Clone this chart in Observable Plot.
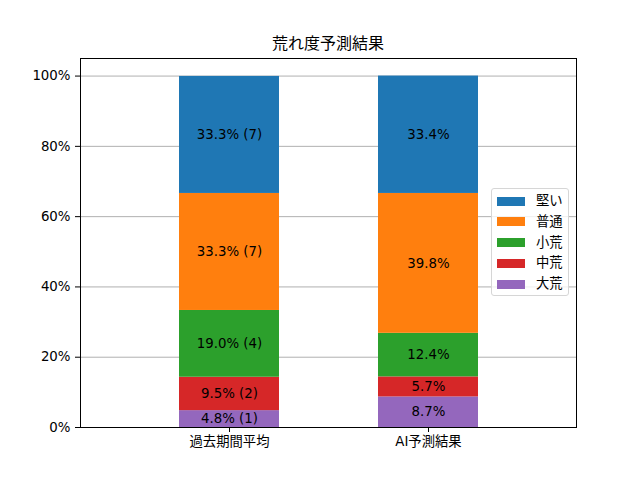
<!DOCTYPE html>
<html>
<head>
<meta charset="utf-8">
<script src="https://cdn.jsdelivr.net/npm/d3@7"></script>
<script src="https://cdn.jsdelivr.net/npm/@observablehq/plot@0.6"></script>
<style>
  html, body { margin: 0; padding: 0; background: #fff; }
  body { width: 640px; height: 480px; position: relative; overflow: hidden;
         font-family: "DejaVu Sans", "Noto Sans CJK JP", sans-serif; }
  #title { position: absolute; left: 80px; width: 496px; top: 34px; text-align: center;
           font-size: 16px; line-height: 20px; color: #000; }
  #legend { position: absolute; left: 491px; top: 188px; width: 78px; height: 108px;
            border: 1px solid #d6d6d6; border-radius: 3px; background: rgba(255,255,255,0.8);
            box-sizing: border-box; font-size: 13.33px; }
  .row { position: absolute; left: 0; height: 20px; display: flex; align-items: center; }
  .sw { position: absolute; left: 5px; width: 28px; height: 9px; }
  .lb { position: absolute; left: 44px; white-space: nowrap; line-height: 20px; }
  #chart { position: absolute; left: 0; top: 0; }
</style>
</head>
<body>
<div id="chart"></div>
<div id="title"></div>
<div id="legend"></div>
<script>
const chartTitle = "荒れ度予測結果";
const categories = ["過去期間平均", "AI予測結果"];
const levels = ["大荒", "中荒", "小荒", "普通", "堅い"];      // bottom to top
const colors = ["#9467bd", "#d62728", "#2ca02c", "#ff7f0e", "#1f77b4"];
const pastValues = [4.8, 9.5, 19.0, 33.3, 33.3];
const pastCounts = [1, 2, 4, 7, 7];
const aiValues = [8.7, 5.7, 12.4, 39.8, 33.4];
const yTicks = [0, 20, 40, 60, 80, 100];

const rows = [];
levels.forEach((lv, i) => rows.push({cat: categories[0], level: lv, value: pastValues[i],
  label: `${pastValues[i].toFixed(1)}% (${pastCounts[i]})`}));
levels.forEach((lv, i) => rows.push({cat: categories[1], level: lv, value: aiValues[i],
  label: `${aiValues[i].toFixed(1)}%`}));

const font = "'DejaVu Sans', 'Noto Sans CJK JP', sans-serif";

const chart = Plot.plot({
  width: 640,
  height: 480,
  marginLeft: 80,
  marginRight: 64,
  marginTop: 58,
  marginBottom: 53,
  style: {fontSize: "13.33px", fontFamily: font, color: "#000", background: "transparent"},
  x: {domain: categories, paddingInner: 0.5, paddingOuter: 0.495, label: null},
  y: {domain: [0, 105], label: null},
  color: {domain: levels, range: colors},
  marks: [
    Plot.gridY(yTicks, {stroke: "#b0b0b0", strokeOpacity: 1, strokeWidth: 1}),
    Plot.barY(rows, Plot.stackY({x: "cat", y: "value", z: "level", fill: "level", order: levels})),
    Plot.text(rows, Plot.stackY({x: "cat", y: "value", z: "level", text: "label", order: levels,
      fill: "#000", fontSize: 13.33})),
    Plot.axisY(yTicks, {tickFormat: d => d + "%", tickSize: 5, tickPadding: 5, label: null, fontSize: 13.33}),
    Plot.axisX({tickSize: 5, tickPadding: 4, label: null, fontSize: 13.33}),
    Plot.frame({stroke: "#000", strokeWidth: 1})
  ]
});
document.getElementById("chart").appendChild(chart);
document.getElementById("title").textContent = chartTitle;

const legend = document.getElementById("legend");
const order = levels.slice().reverse();
order.forEach((lv, i) => {
  const idx = levels.indexOf(lv);
  const row = document.createElement("div");
  row.className = "row";
  row.style.top = (2 + i * 20.8) + "px";
  row.style.width = "100%";
  const sw = document.createElement("div");
  sw.className = "sw";
  sw.style.background = colors[idx];
  const lb = document.createElement("div");
  lb.className = "lb";
  lb.textContent = lv;
  row.appendChild(sw);
  row.appendChild(lb);
  legend.appendChild(row);
});
</script>
</body>
</html>
